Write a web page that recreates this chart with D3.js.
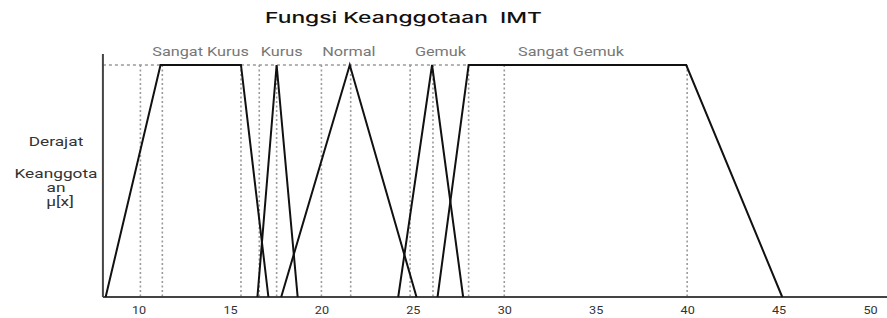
<!DOCTYPE html>
<html>
<head>
<meta charset="utf-8">
<script src="https://cdn.jsdelivr.net/npm/d3@7/dist/d3.min.js"></script>
<style>
  body { margin: 0; background: #fff; }
</style>
</head>
<body>
<svg width="887" height="318"></svg>
<script>
// membership sets (IMT values of the corner points)
const setNames = ['Sangat Kurus', 'Kurus', 'Normal', 'Gemuk', 'Sangat Gemuk'];
const setPoints = [
  [8.2, 11.2, 15.6, 17.1],
  [16.5, 17.55, 18.7],
  [17.8, 21.55, 25.2],
  [24.2, 26.05, 27.75],
  [26.35, 28.05, 39.95, 45.2]
];
// where the set names sit along the x axis
const labelPos = [13.39, 17.83, 21.5, 26.51, 33.65];
// grey dotted guide lines
const guides = [10.1, 11.3, 15.6, 16.6, 17.55, 20, 21.6, 24.85, 26.1, 28.05, 30, 40];
const xTicks = [10, 15, 20, 25, 30, 35, 40, 45, 50];

const margin = {top: 65, right: 17, bottom: 21, left: 102};
const svg = d3.select('svg');
const W = +svg.attr('width'), H = +svg.attr('height');
const font = 'Roboto, "Open Sans", sans-serif';

const x = d3.scaleLinear().domain([8, 50]).range([margin.left, W - margin.right]);
const y = d3.scaleLinear().domain([0, 1]).range([H - margin.bottom, margin.top]);

// title (the original lettering is wide, so stretch it)
svg.append('text')
  .attr('x', 265).attr('y', 23)
  .attr('font-family', 'Inter, "Open Sans", sans-serif')
  .attr('font-weight', 500)
  .attr('font-size', '15px')
  .attr('fill', '#111')
  .attr('textLength', 277)
  .attr('lengthAdjust', 'spacingAndGlyphs')
  .attr('xml:space', 'preserve')
  .text('Fungsi Keanggotaan  IMT');

// dotted guides
svg.append('g').selectAll('line')
  .data(guides)
  .enter().append('line')
  .attr('x1', d => x(d)).attr('x2', d => x(d))
  .attr('y1', y(1)).attr('y2', y(0))
  .attr('stroke', '#9a9a9a')
  .attr('stroke-width', 1.6)
  .attr('stroke-dasharray', '2,2.5');

// dashed line at degree 1
svg.append('line')
  .attr('x1', x(8.05)).attr('x2', x(setPoints[4][1]))
  .attr('y1', y(1)).attr('y2', y(1))
  .attr('stroke', '#9a9a9a')
  .attr('stroke-width', 1.6)
  .attr('stroke-dasharray', '3,3');

// axes
svg.append('line')
  .attr('x1', x(8.05)).attr('x2', x(8.05))
  .attr('y1', 54).attr('y2', y(0))
  .attr('stroke', '#444').attr('stroke-width', 2);

const xAxis = svg.append('g')
  .attr('transform', `translate(0,${y(0)})`)
  .call(d3.axisBottom(x).tickValues(xTicks).tickSize(0).tickPadding(9));
xAxis.select('.domain').attr('stroke', '#444').attr('stroke-width', 2)
  .attr('d', `M${x(8.05)},0H${W}`);
xAxis.selectAll('text')
  .attr('font-family', font)
  .attr('font-size', '11px')
  .attr('fill', '#333')
  .attr('transform', 'scale(1.15,1)');

// membership functions
const line = d3.line()
  .x(d => x(d[0]))
  .y(d => y(d[1]));

const shapes = setPoints.map(p => p.length === 3
  ? [[p[0], 0], [p[1], 1], [p[2], 0]]
  : [[p[0], 0], [p[1], 1], [p[2], 1], [p[3], 0]]);

svg.append('g').selectAll('path')
  .data(shapes)
  .enter().append('path')
  .attr('d', line)
  .attr('fill', 'none')
  .attr('stroke', '#111')
  .attr('stroke-width', 2)
  .attr('stroke-linejoin', 'miter');

// set names
svg.append('g').selectAll('text')
  .data(setNames)
  .enter().append('text')
  .attr('transform', (d, i) => `translate(${x(labelPos[i])},56) scale(1.25,1)`)
  .attr('text-anchor', 'middle')
  .attr('font-family', font)
  .attr('font-size', '13px')
  .attr('fill', '#777')
  .text(d => d);

// y label
const yLab = ['Derajat', '', 'Keanggota', 'an', '\u03bc[x]'];
const yLabY = [146, 0, 178, 192, 206];
svg.append('g').selectAll('text')
  .data(yLab)
  .enter().append('text')
  .attr('transform', (d, i) => `translate(${i === 4 ? 60 : 56},${yLabY[i]}) scale(1.28,1)`)
  .attr('text-anchor', 'middle')
  .attr('font-family', font)
  .attr('font-size', '13.5px')
  .attr('fill', '#333')
  .text(d => d);
</script>
</body>
</html>
